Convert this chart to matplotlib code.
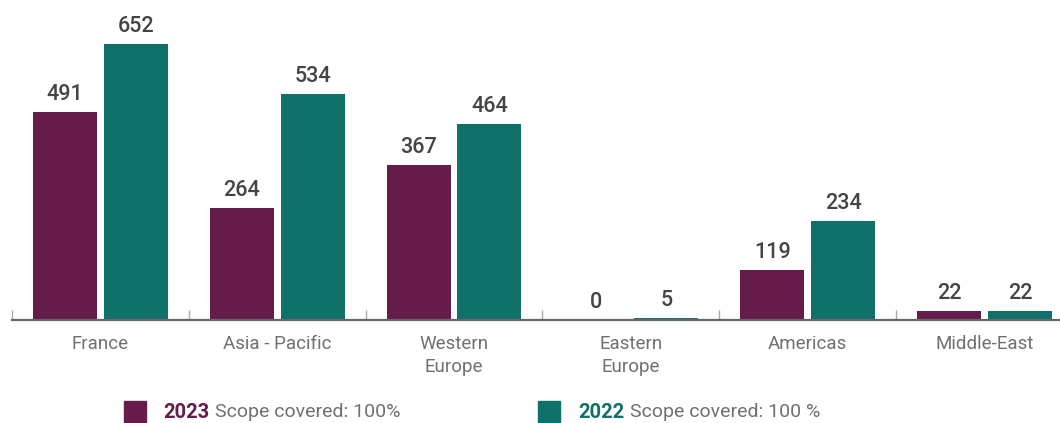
import matplotlib.pyplot as plt
from matplotlib.patches import Rectangle
import numpy as np

regions = ['France', 'Asia - Pacific', 'Western\nEurope', 'Eastern\nEurope',
           'Americas', 'Middle-East']
values_2023 = [491, 264, 367, 0, 119, 22]
values_2022 = [652, 534, 464, 5, 234, 22]

purple = '#661C4B'
teal = '#10706A'
plt.rcParams['font.family'] = ['Roboto', 'DejaVu Sans']

fig = plt.figure(figsize=(10.6, 4.23), dpi=100)
ax = fig.add_axes([12 / 1060, 103 / 423, 1061 / 1060, 320 / 423])

x = np.arange(len(regions))
w = 0.362
off = 0.2
b1 = ax.bar(x - off, values_2023, w, color=purple)
b2 = ax.bar(x + off, values_2022, w, color=teal)

for bars in (b1, b2):
    for rect in bars:
        h = rect.get_height()
        ax.annotate(str(int(h)), (rect.get_x() + rect.get_width() / 2, h),
                    xytext=(0, 5), textcoords='offset points',
                    ha='center', va='bottom', fontsize=15.5,
                    fontweight='medium', color='#444444')

ax.set_xlim(-0.5, len(regions) - 0.5)
ax.set_ylim(0, 756)
ax.set_yticks([])
for s in ('top', 'right', 'left'):
    ax.spines[s].set_visible(False)
ax.spines['bottom'].set_color('#666666')
ax.spines['bottom'].set_linewidth(1.6)

# tick marks at group boundaries, pointing up
ax.set_xticks(np.arange(len(regions)) - 0.5, minor=True)
ax.tick_params(axis='x', which='minor', direction='in', length=7,
               color='#aaaaaa', width=1)
ax.set_xticks(x)
ax.set_xticklabels(regions, fontsize=13.5, color='#707070',
                   fontweight='normal', linespacing=1.35)
ax.tick_params(axis='x', which='major', length=0, pad=11)

# legend drawn by hand
for sx, col, year, tx, scope in [(124, purple, '2023', 163, 'Scope covered: 100%'),
                                 (538, teal, '2022', 578, 'Scope covered: 100 %')]:
    fig.patches.append(Rectangle((sx / 1060, 0), 22 / 1060, 22 / 423,
                                 transform=fig.transFigure, color=col))
    fig.text(tx / 1060, 11 / 423, year, color=col, fontsize=14.5,
             fontweight='bold', va='center')
    fig.text((tx + 52) / 1060, 11 / 423, scope, color='#707070',
             fontsize=14, fontweight='normal', va='center')

fig.savefig('out.png', dpi=100)
